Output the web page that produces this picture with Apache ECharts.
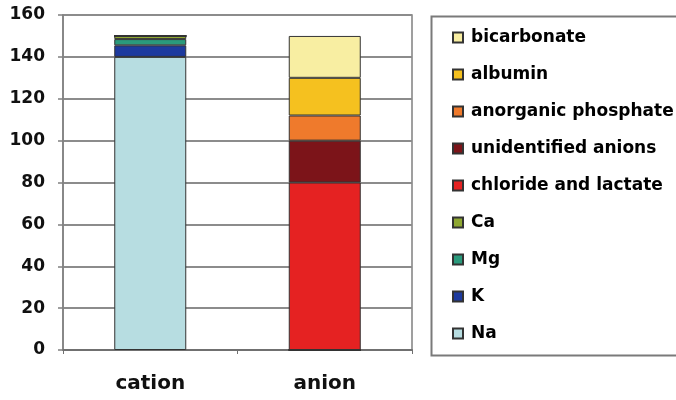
<!DOCTYPE html>
<html><head><meta charset="utf-8">
<script src="https://cdn.jsdelivr.net/npm/echarts@6/dist/echarts.min.js"></script>
<style>html,body{margin:0;padding:0;background:#fff}#c{width:676px;height:400px}</style>
</head><body><div id="c"></div>
<script>
var categories = ['cation', 'anion'];
var yTicks = [0, 20, 40, 60, 80, 100, 120, 140, 160];
// series in stacking order (bottom to top)
var Na = [140, 0];
var K = [5.5, 0];
var Mg = [3, 0];
var Ca = [1.5, 0];
var chlorideLactate = [0, 80];
var unidentifiedAnions = [0, 20];
var anorganicPhosphate = [0, 12];
var albumin = [0, 18];
var bicarbonate = [0, 20];

var seriesDefs = [
  ['Na', Na, '#b7dde1'],
  ['K', K, '#1d3a9e'],
  ['Mg', Mg, '#2a9a7c'],
  ['Ca', Ca, '#8fa832'],
  ['chloride and lactate', chlorideLactate, '#e52222'],
  ['unidentified anions', unidentifiedAnions, '#7c1419'],
  ['anorganic phosphate', anorganicPhosphate, '#ef7a2c'],
  ['albumin', albumin, '#f5c11f'],
  ['bicarbonate', bicarbonate, '#f8eea2']
];
var legendOrder = ['bicarbonate','albumin','anorganic phosphate','unidentified anions','chloride and lactate','Ca','Mg','K','Na'];

var font = 'DejaVu Sans';
var chart = echarts.init(document.getElementById('c'), null, {renderer: 'canvas'});
chart.setOption({
  animation: false,
  backgroundColor: '#fff',
  grid: {left: 63, right: 264, top: 15, bottom: 50, show: true, borderColor: '#808080', borderWidth: 1.5, backgroundColor: 'transparent'},
  xAxis: {
    type: 'category', data: categories,
    axisLine: {lineStyle: {color: '#707070', width: 2}},
    axisTick: {show: true, length: 4, lineStyle: {color: '#707070'}},
    axisLabel: {fontFamily: font, fontWeight: 'bold', fontSize: 20, color: '#111', margin: 24}
  },
  yAxis: {
    type: 'value', min: 0, max: 160, interval: 20,
    axisLine: {show: true, lineStyle: {color: '#808080', width: 1.5}},
    axisTick: {show: true, length: 5, lineStyle: {color: '#808080', width: 1.5}},
    splitLine: {lineStyle: {color: '#8c8c8c', width: 2}},
    axisLabel: {fontFamily: font, fontWeight: 'bold', fontSize: 17, color: '#111', margin: 18,
      formatter: function (v) { return yTicks.indexOf(v) >= 0 ? String(v) : ''; }}
  },
  legend: {
    orient: 'vertical', left: 447, top: 24,
    data: legendOrder, itemWidth: 10, itemHeight: 10, itemGap: 20,
    icon: 'rect',
    textStyle: {fontFamily: font, fontWeight: 'bold', fontSize: 17, color: '#000', lineHeight: 17, padding: [0, 0, 0, 3]}
  },
  graphic: [{
    type: 'rect', left: 429, top: 14, silent: true,
    shape: {width: 260, height: 339},
    style: {fill: 'none', stroke: '#7a7a7a', lineWidth: 2}
  }],
  series: seriesDefs.map(function (d) {
    return {
      name: d[0], type: 'bar', stack: 'total', data: d[1], barWidth: 72,
      itemStyle: {color: d[2], borderColor: '#333', borderWidth: 1},
      emphasis: {disabled: true}
    };
  })
});
</script></body></html>
